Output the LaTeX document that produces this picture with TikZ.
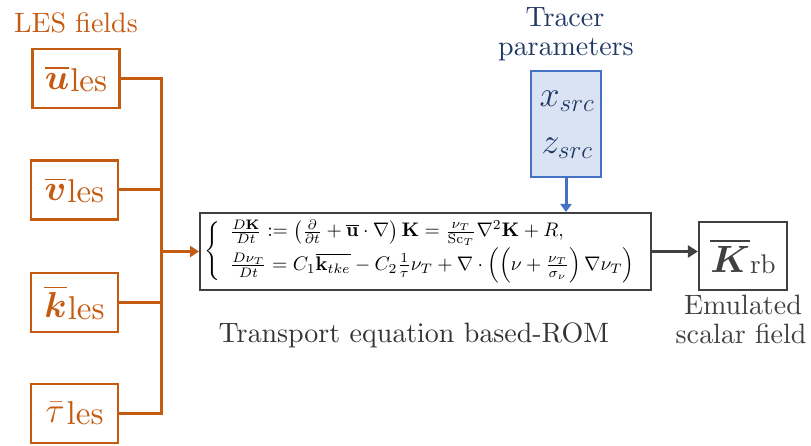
\RequirePackage{fix-cm}
\documentclass[tikz,border=0pt]{standalone}
\usepackage{amsmath,amssymb}
\usepackage{graphicx}
\usetikzlibrary{arrows.meta}
\definecolor{orng}{HTML}{C55A11}
\definecolor{dgray}{HTML}{404040}
\definecolor{navy}{HTML}{1F3864}
\definecolor{bblue}{HTML}{4472C4}
\definecolor{bfill}{HTML}{DAE3F3}
\font\rmbig=cmr10 at 28pt
\font\lesf=cmr10 at 33pt
\font\rbf=cmr10 at 27pt
\newcommand{\lesfield}[2][1pt]{{\fontsize{36}{40}\selectfont$#2$}\kern#1\raisebox{-2pt}{\lesf les}}
\begin{document}
\begin{tikzpicture}[x=1pt,y=-1pt,
  bigtext/.style={font=\rmbig},
  obox/.style={draw=orng,line width=2.2pt,text=orng,minimum width=87pt,minimum height=59pt,inner sep=0pt},
  oline/.style={draw=orng,line width=3pt},
  eqbox/.style={draw=dgray,line width=2pt,minimum width=451pt,minimum height=77pt,inner sep=0pt},
  bbox/.style={draw=bblue,fill=bfill,line width=2.6pt,minimum width=70pt,minimum height=106pt,inner sep=0pt},
  kbox/.style={draw=dgray,line width=2.2pt,minimum width=88pt,minimum height=68pt,inner sep=0pt,text=dgray}
]
\useasboundingbox (0,0) rectangle (811,446);

% LES fields
\node[bigtext,text=orng,anchor=base] (lest) at (76,33) {LES fields};
\node[obox] (u) at (76,78.5) {\lesfield{\overline{\boldsymbol{u}}}};
\node[obox] (v) at (74.5,190) {\lesfield{\overline{\boldsymbol{v}}}};
\node[obox] (k) at (74.5,302.5) {\lesfield{\overline{\boldsymbol{k}}}};
\node[obox] (t) at (74.5,413.5) {\lesfield[2pt]{\bar{\tau}}};

\coordinate (jn) at (161,251.5);

% equation box
\node[eqbox] (eq) at (425.5,251.5) {\resizebox{442pt}{!}{$\left\{\begin{array}{l}
\frac{D\mathbf{K}}{Dt} := \left(\frac{\partial}{\partial t} + \overline{\mathbf{u}}\cdot\nabla\right)\mathbf{K} = \frac{\nu_T}{\mathrm{Sc}_T}\nabla^2\mathbf{K} + R,\\[2pt]
\frac{D\nu_T}{Dt} = C_1\overline{\mathbf{k}_{tke}} - C_2\frac{1}{\tau}\nu_T + \nabla\cdot\left(\left(\nu + \frac{\nu_T}{\sigma_\nu}\right)\nabla\nu_T\right)
\end{array}\right.$}};
\node[bigtext,text=dgray!80!black,anchor=base] (lbl) at (414,342) {Transport equation based-ROM};

% tracer parameters
\node[bigtext,text=navy,anchor=base] (tr1) at (565,27) {Tracer};
\node[bigtext,text=navy,anchor=base] (tr2) at (566,56) {parameters};
\node[bbox] (tp) at (566,124) {};
\node[text=navy,font=\fontsize{36}{40}\selectfont] (xs) at (567,101) {$x_{src}$};
\node[text=navy,font=\fontsize{36}{40}\selectfont] (zs) at (567,148) {$z_{src}$};

% output
\node[kbox] (kb) at (743,256) {{\fontsize{38}{42}\selectfont$\overline{\boldsymbol{K}}$}\raisebox{-1pt}{\rbf rb}};
\node[bigtext,text=dgray,anchor=base] (em1) at (743,315) {Emulated};
\node[bigtext,text=dgray,anchor=base] (em2) at (741,343) {scalar field};

% connectors
\draw[oline] (u.east) -| (jn);
\draw[oline] (v.east) -| (jn);
\draw[oline] (k.east) -| (jn);
\draw[oline] (t.east) -| (jn);
\draw[oline,-{Triangle[length=9pt,width=11pt]}] (jn) -- (eq.west);
\draw[bblue,line width=3pt,-{Triangle[length=8pt,width=11pt]}] (tp.south) -- (tp.south |- eq.north);
\draw[dgray,line width=3pt,-{Triangle[length=10pt,width=12pt]}] (eq.east) -- (kb.west |- eq.east);
\end{tikzpicture}
\end{document}
